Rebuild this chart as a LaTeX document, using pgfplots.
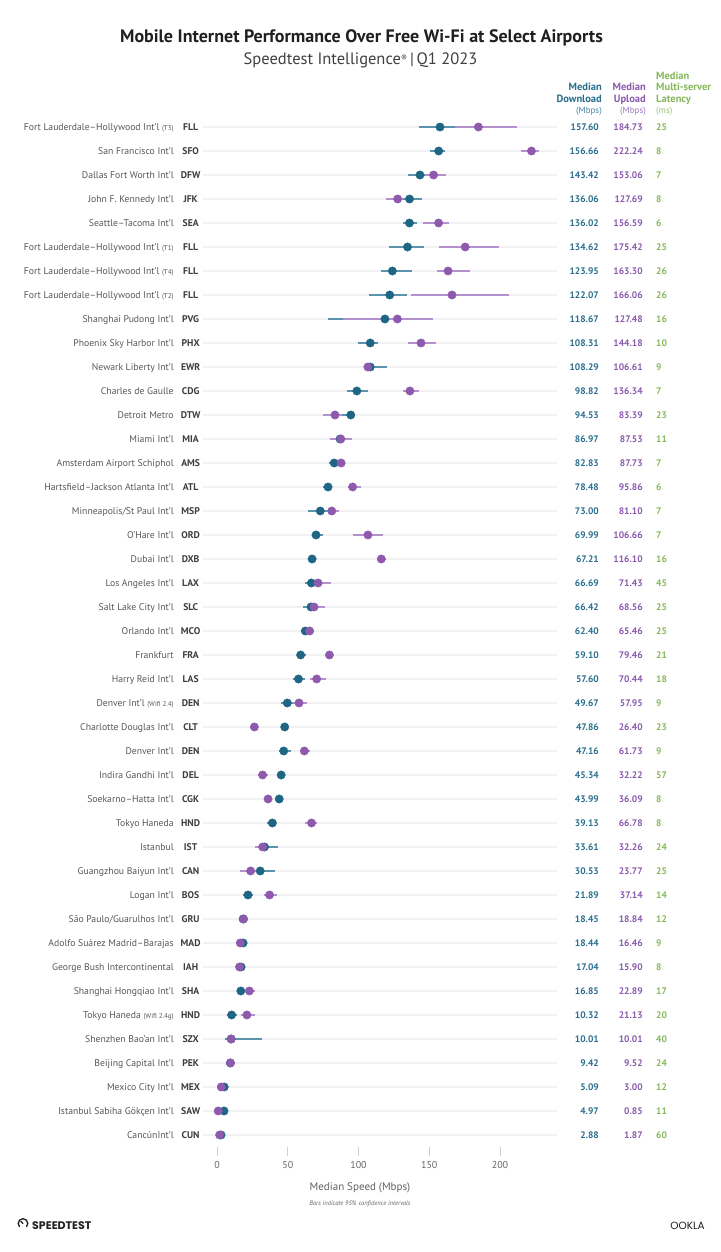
\documentclass[border=0pt]{standalone}
\usepackage{fontspec}
\setmainfont{PT Sans}
\newfontfamily\logofont{Poppins}
\usepackage{pgfplots}
\pgfplotsset{compat=1.18}
\usepackage{pgfplotstable}

\definecolor{dlc}{HTML}{1F6685}
\definecolor{dlci}{HTML}{5A93AB}
\definecolor{ulc}{HTML}{8E5AAD}
\definecolor{ulci}{HTML}{B590CE}
\definecolor{dlt}{HTML}{2A6F8E}
\definecolor{ult}{HTML}{8A5AAE}
\definecolor{latc}{HTML}{86B85A}
\definecolor{namec}{HTML}{575757}
\definecolor{codec}{HTML}{3D3D3D}
\definecolor{gridc}{HTML}{F1F1F3}

\newcommand{\nt}[1]{{\fontsize{7}{8}\selectfont #1}}
\newcommand{\ap}[2]{{\color{namec}#1}\hspace{6pt}\makebox[22pt][c]{\bfseries\color{codec}#2}}

\pgfplotstableread{
i dl dlL dlH ul ulL ulH lat
1 157.60 143 169 184.73 168 212 25
2 156.66 150.5 161 222.24 214.6 227.8 8
3 143.42 135 148.5 153.06 147 161.6 7
4 136.06 131.5 145 127.69 119.4 131.7 8
5 136.02 131.4 141.1 156.59 145.6 163.7 6
6 134.62 121.6 146.5 175.42 157.1 199.5 25
7 123.95 115.9 137.8 163.30 155.7 178.6 26
8 122.07 107.4 134.5 166.06 137.3 206.1 26
9 118.67 78.4 130 127.48 89.3 152.9 16
10 108.31 99.6 113.5 144.18 135.2 155 10
11 108.29 105.8 119.9 106.61 104.5 108.5 9
12 98.82 92.1 106.9 136.34 131.7 143 7
13 94.53 86 96 83.39 74.7 88 23
14 86.97 81 93 87.53 79.9 95.2 11
15 82.83 79.4 84.5 87.73 86.5 89 7
16 78.48 75.1 81 95.86 92.3 101.5 6
17 73.00 64.5 77.5 81.10 77.5 86 7
18 69.99 67.6 75.1 106.66 95.9 117.5 7
19 67.21 65.4 69.6 116.10 113.5 119.4 16
20 66.69 62.2 68.5 71.43 68.1 80.6 45
21 66.42 61 66.5 68.56 65.7 76.3 25
22 62.40 59.1 63.5 65.46 62.9 68.6 25
23 59.10 56.3 62.9 79.46 78.8 80.2 21
24 57.60 53.9 62.2 70.44 65.7 76.8 18
25 49.67 45.2 53.9 57.95 53.9 63.8 9
26 47.86 46.8 48.9 26.40 25.8 27 23
27 47.16 44 52.1 61.73 59.1 65.7 9
28 45.34 44.6 46 32.22 28.7 36 57
29 43.99 43.2 44.8 36.09 33.9 38.6 8
30 39.13 35.1 41.7 66.78 62.2 70.5 8
31 33.61 29 42.9 32.26 27.1 36 24
32 30.53 25 41 23.77 16.5 28 25
33 21.89 18.6 25.7 37.14 33.2 42.2 14
34 18.45 18 19 18.84 18.2 19.5 12
35 18.44 17.5 19.3 16.46 15.8 17.2 9
36 17.04 16.5 17.6 15.90 15.3 16.5 8
37 16.85 16.2 17.5 22.89 21 26.9 17
38 10.32 6.8 13.9 21.13 16.7 26.9 20
39 10.01 6 31.6 10.01 9.5 10.5 40
40 9.42 9 9.9 9.52 9.1 10 24
41 5.09 4.7 5.5 3.00 2.6 3.4 12
42 4.97 4.6 5.4 0.85 0.5 1.2 11
43 2.88 2.5 3.3 1.87 1.5 2.3 60
}\data

\begin{document}
\begin{tikzpicture}[x=1pt,y=1pt]
\useasboundingbox (0,0) rectangle (720,1252);

% title
\node[anchor=base, inner sep=0pt, font=\bfseries\fontsize{18}{20}\selectfont, text=black!88] at (361.5,1209.5) {Mobile Internet Performance Over Free Wi-Fi at Select Airports};
\node[anchor=base, inner sep=0pt, font=\fontsize{16.5}{18}\selectfont, text=black!75] at (360.5,1187) {Speedtest Intelligence\raisebox{0.45ex}{\fontsize{9}{9}\selectfont ®}\,|\,Q1 2023};

% column headers
\begin{scope}[every node/.style={inner sep=0pt}]
\node[anchor=base east, font=\bfseries\fontsize{10.5}{12}\selectfont, text=dlt] at (602,1161) {Median};
\node[anchor=base east, font=\bfseries\fontsize{10.5}{12}\selectfont, text=dlt] at (602,1149.5) {Download};
\node[anchor=base east, font=\fontsize{9}{10}\selectfont, text=dlt!85] at (602,1138.5) {(Mbps)};
\node[anchor=base east, font=\bfseries\fontsize{10.5}{12}\selectfont, text=ult] at (646,1161) {Median};
\node[anchor=base east, font=\bfseries\fontsize{10.5}{12}\selectfont, text=ult] at (646,1149.5) {Upload};
\node[anchor=base east, font=\fontsize{9}{10}\selectfont, text=ult!85] at (646,1138.5) {(Mbps)};
\node[anchor=base west, font=\bfseries\fontsize{10.5}{12}\selectfont, text=latc] at (656,1172.5) {Median};
\node[anchor=base west, font=\bfseries\fontsize{10.5}{12}\selectfont, text=latc] at (656,1161) {Multi-server};
\node[anchor=base west, font=\bfseries\fontsize{10.5}{12}\selectfont, text=latc] at (656,1149.5) {Latency};
\node[anchor=base west, font=\fontsize{9}{10}\selectfont, text=latc!85] at (656,1138.5) {(ms)};
\end{scope}

\begin{axis}[
  at={(202.85pt,1137pt)}, anchor=north west,
  scale only axis, width=353.75pt, height=1032pt,
  xmin=-10, xmax=240, ymin=0.5, ymax=43.5, y dir=reverse,
  clip=false,
  axis line style={draw=none},
  /pgf/number format/assume math mode=true,
  xtick={0,50,100,150,200}, xtick pos=bottom, tick align=outside,
  major tick length=9pt,
  xtick style={draw=black!18, line width=0.8pt},
  xticklabel style={font=\fontsize{10}{12}\selectfont, text=black!60, yshift=-2pt},
  ytick={1,...,43}, ytick pos=left, ytick style={draw=none},
  yticklabel style={anchor=east, inner sep=0pt, xshift=8pt, font=\fontsize{9.7}{11}\selectfont, text height=6.8pt, text depth=0pt},
  yticklabels={
    {\ap{Fort Lauderdale–Hollywood Int'l \nt{(T3)}}{FLL}},
    {\ap{San Francisco Int'l}{SFO}},
    {\ap{Dallas Fort Worth Int'l}{DFW}},
    {\ap{John F. Kennedy Int'l}{JFK}},
    {\ap{Seattle–Tacoma Int'l}{SEA}},
    {\ap{Fort Lauderdale–Hollywood Int'l \nt{(T1)}}{FLL}},
    {\ap{Fort Lauderdale–Hollywood Int'l \nt{(T4)}}{FLL}},
    {\ap{Fort Lauderdale–Hollywood Int'l \nt{(T2)}}{FLL}},
    {\ap{Shanghai Pudong Int'l}{PVG}},
    {\ap{Phoenix Sky Harbor Int'l}{PHX}},
    {\ap{Newark Liberty Int'l}{EWR}},
    {\ap{Charles de Gaulle}{CDG}},
    {\ap{Detroit Metro}{DTW}},
    {\ap{Miami Int'l}{MIA}},
    {\ap{Amsterdam Airport Schiphol}{AMS}},
    {\ap{Hartsfield–Jackson Atlanta Int'l}{ATL}},
    {\ap{Minneapolis/St Paul Int'l}{MSP}},
    {\ap{O'Hare Int'l}{ORD}},
    {\ap{Dubai Int'l}{DXB}},
    {\ap{Los Angeles Int'l}{LAX}},
    {\ap{Salt Lake City Int'l}{SLC}},
    {\ap{Orlando Int'l}{MCO}},
    {\ap{Frankfurt}{FRA}},
    {\ap{Harry Reid Int'l}{LAS}},
    {\ap{Denver Int'l \nt{(Wifi 2.4)}}{DEN}},
    {\ap{Charlotte Douglas Int'l}{CLT}},
    {\ap{Denver Int'l}{DEN}},
    {\ap{Indira Gandhi Int'l}{DEL}},
    {\ap{Soekarno–Hatta Int'l}{CGK}},
    {\ap{Tokyo Haneda}{HND}},
    {\ap{Istanbul}{IST}},
    {\ap{Guangzhou Baiyun Int'l}{CAN}},
    {\ap{Logan Int'l}{BOS}},
    {\ap{São Paulo/Guarulhos Int'l}{GRU}},
    {\ap{Adolfo Suárez Madrid–Barajas}{MAD}},
    {\ap{George Bush Intercontinental}{IAH}},
    {\ap{Shanghai Hongqiao Int'l}{SHA}},
    {\ap{Tokyo Haneda \nt{(Wifi 2.4g)}}{HND}},
    {\ap{Shenzhen Bao'an Int'l}{SZX}},
    {\ap{Beijing Capital Int'l}{PEK}},
    {\ap{Mexico City Int'l}{MEX}},
    {\ap{Istanbul Sabiha Gökçen Int'l}{SAW}},
    {\ap{CancúnInt'l}{CUN}}
  },
  ymajorgrids, grid style={draw=gridc, line width=1.6pt},
]
% confidence intervals
\addplot[only marks, mark=none, error bars/.cd, x dir=both, x explicit, error mark=none,
  error bar style={draw=dlci, line width=2.6pt}]
  table[x=dl, y=i, x error plus expr=\thisrow{dlH}-\thisrow{dl}, x error minus expr=\thisrow{dl}-\thisrow{dlL}] {\data};
\addplot[only marks, mark=none, error bars/.cd, x dir=both, x explicit, error mark=none,
  error bar style={draw=ulci, line width=2.6pt}]
  table[x=ul, y=i, x error plus expr=\thisrow{ulH}-\thisrow{ul}, x error minus expr=\thisrow{ul}-\thisrow{ulL}] {\data};
% medians
\addplot[only marks, color=dlc, mark=*, mark size=4.2pt, line width=0.4pt] table[x=dl, y=i] {\data};
\addplot[only marks, color=ulc, mark=*, mark size=4.2pt, line width=0.4pt] table[x=ul, y=i] {\data};
% value columns
\addplot[draw=none, mark=none, point meta=explicit symbolic, nodes near coords,
  every node near coord/.append style={anchor=east, inner sep=0pt, font=\bfseries\fontsize{9.5}{11}\selectfont, text=dlt, text height=6.7pt, text depth=0pt}]
  table[x expr=270, y=i, meta=dl] {\data};
\addplot[draw=none, mark=none, point meta=explicit symbolic, nodes near coords,
  every node near coord/.append style={anchor=east, inner sep=0pt, font=\bfseries\fontsize{9.5}{11}\selectfont, text=ult, text height=6.7pt, text depth=0pt}]
  table[x expr=301, y=i, meta=ul] {\data};
\addplot[draw=none, mark=none, point meta=explicit symbolic, nodes near coords,
  every node near coord/.append style={anchor=west, inner sep=0pt, font=\bfseries\fontsize{9.5}{11}\selectfont, text=latc, text height=6.7pt, text depth=0pt}]
  table[x expr=310.25, y=i, meta=lat] {\data};
\end{axis}

% axis label and note
\node[anchor=base, inner sep=0pt, font=\fontsize{11}{13}\selectfont, text=black!62] at (360,61) {Median Speed (Mbps)};
\node[anchor=base, inner sep=0pt, font=\itshape\fontsize{6.5}{8}\selectfont, text=black!60] at (360,46.5) {Bars indicate 95\% confidence intervals};

% logos
\draw[line width=1.3pt, black!88] ([shift={(225:4.8)}]23,28.5) arc[start angle=225, end angle=-45, radius=4.8];
\draw[line width=1.2pt, black!88, line cap=round] (23,28.5) -- ++(135:3.2);
\node[anchor=base west, inner sep=0pt, font=\logofont\bfseries\fontsize{11}{12}\selectfont, text=black!88] at (32,23) {SPEEDTEST};
\node[anchor=base east, inner sep=0pt, font=\logofont\fontsize{10.5}{12}\selectfont, text=black!88] at (705,23) {OOKLA};
\end{tikzpicture}
\end{document}
